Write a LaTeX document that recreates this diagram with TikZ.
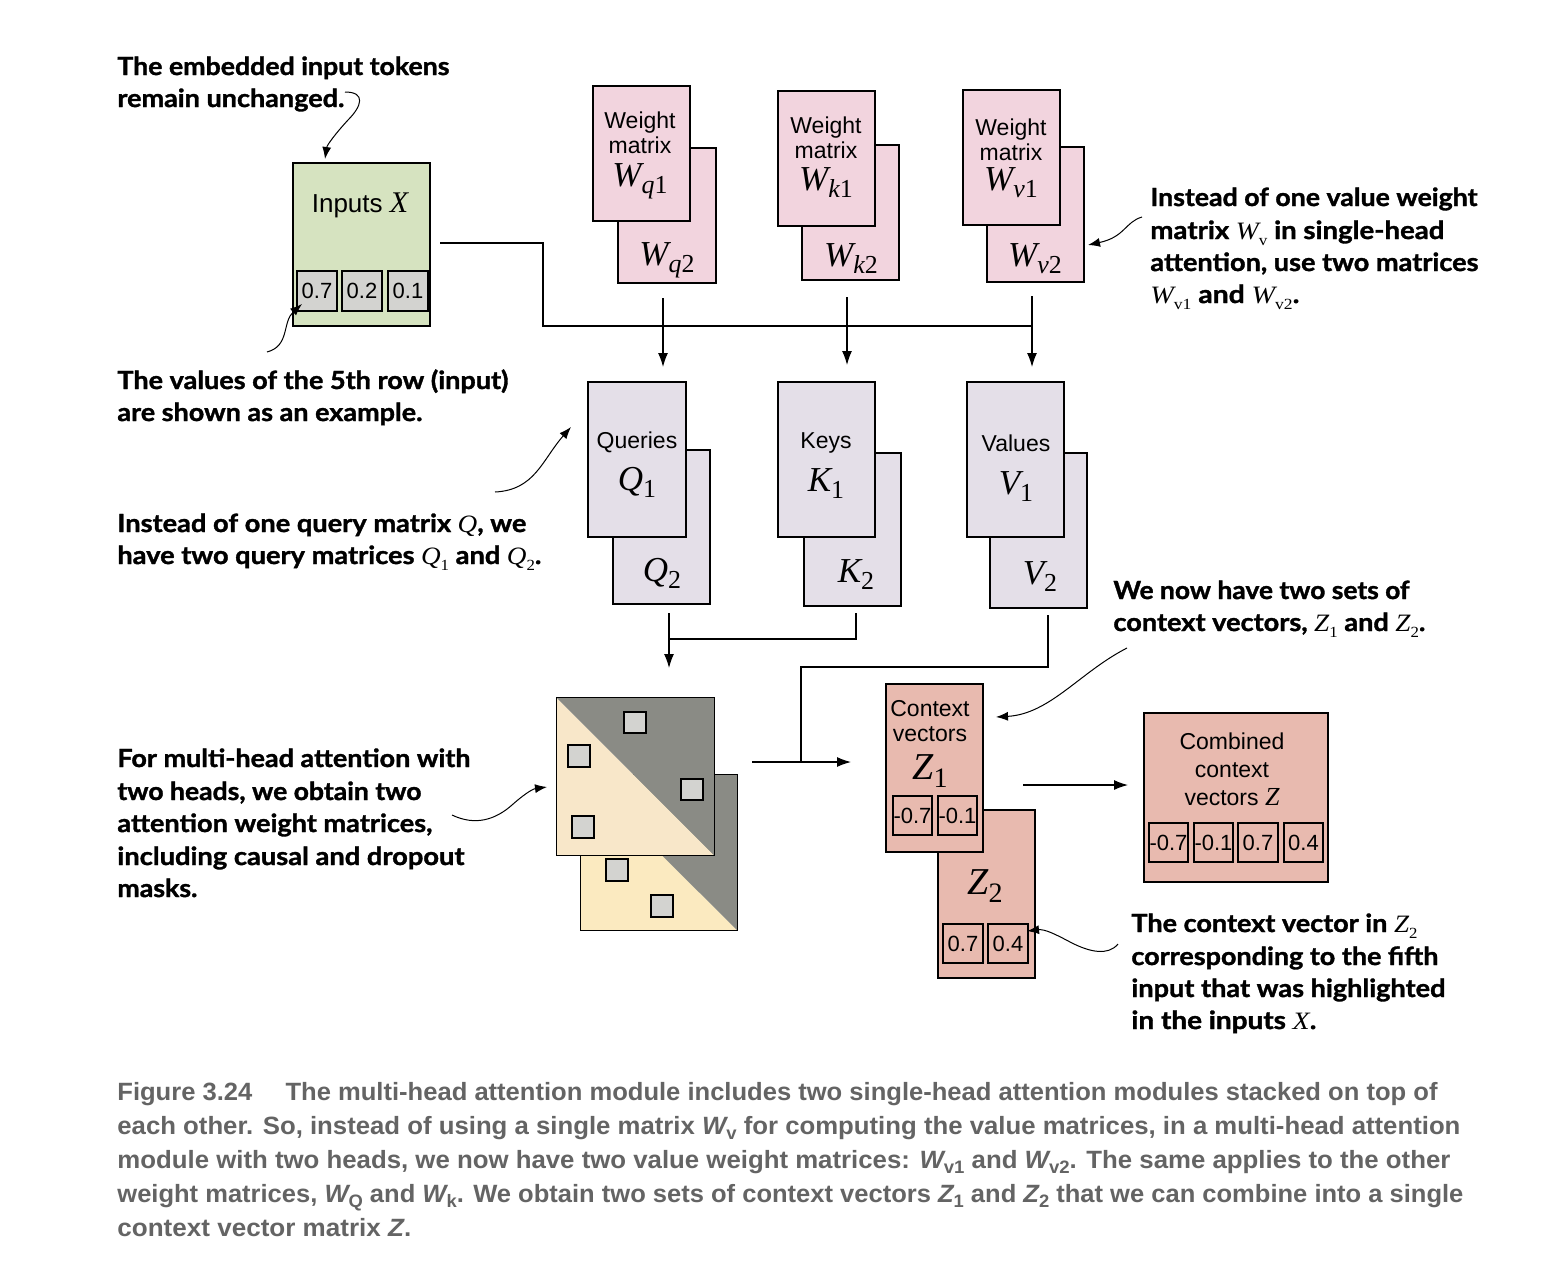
\documentclass[tikz,border=0pt]{standalone}
\usepackage{fontspec}
\setmainfont{Liberation Sans}
\newfontfamily\tms{Liberation Serif}
\newfontfamily\cfont{Lato}[BoldFeatures={FakeBold=1.3}]
\usetikzlibrary{arrows.meta,fit}
\definecolor{ingreen}{RGB}{214,227,192}
\definecolor{cellgray}{RGB}{211,211,208}
\definecolor{wpink}{RGB}{242,212,222}
\definecolor{qlav}{RGB}{228,223,232}
\definecolor{zsalmon}{RGB}{232,186,175}
\definecolor{attgray}{RGB}{138,139,133}
\definecolor{beigeA}{RGB}{248,231,201}
\definecolor{beigeB}{RGB}{251,234,192}
\definecolor{capgray}{RGB}{100,100,100}
\newcommand\ms[2]{{\tms\itshape #1}\raisebox{-0.4ex}{\scalebox{0.74}{\tms #2}}}
\newcommand\cmx[2]{{\tms\mdseries\itshape #1}\raisebox{-0.5ex}{\scalebox{0.62}{\tms\mdseries #2}}}
\newcommand\cix[1]{{\tms\mdseries\itshape #1}}
\newcommand\capm[2]{{\itshape #1}\raisebox{-0.45ex}{\scalebox{0.72}{#2}}}
\newcommand\callln[5]{\node[callout] (#1) at (#2,#3) {\resizebox{#4pt}{\height}{#5}};}
\newcommand\capline[5]{\node[captxt] (#1) at (#2,#3) {\resizebox{#4pt}{\height}{#5}};}
\begin{document}
\begin{tikzpicture}[x=0.5pt,y=-0.5pt,
  box/.style={draw=black,line width=0.75pt,inner sep=0pt},
  cell/.style={draw=black,line width=0.7pt,inner sep=0pt},
  ctxt/.style={inner sep=0pt,anchor=center,font=\fontsize{11}{11}\selectfont},
  lbl/.style={anchor=base,inner sep=0pt,font=\fontsize{11.5}{12}\selectfont},
  bigm/.style={anchor=base,inner sep=0pt,font=\fontsize{17.5}{17}\selectfont},
  conn/.style={line width=0.6pt},
  arr/.style={line width=0.6pt,-{Latex[length=7pt,width=5pt]}},
  carr/.style={line width=0.5pt,-{Latex[length=6pt,width=4.5pt]}},
  callout/.style={anchor=base west,inner sep=0pt,font=\cfont\bfseries\fontsize{12.5}{14}\selectfont},
  captxt/.style={anchor=base west,inner sep=0pt,text=capgray,font=\bfseries\fontsize{12.5}{14}\selectfont}]
\useasboundingbox[fill=white] (0,0) rectangle (1568,1286);

% ---------- Inputs
\node[box,fill=ingreen,fit={(293,163)(430,326)}] (inp) {};
\node[anchor=base,inner sep=0pt,font=\fontsize{13}{13}\selectfont] (inpt) at (360,212) {Inputs {\tms\itshape\fontsize{15}{15}\selectfont X}};
\node[cell,fill=cellgray,fit={(297,271)(337,311)}] (x1) {};
\node[cell,fill=cellgray,fit={(342,271)(382,311)}] (x2) {};
\node[cell,fill=cellgray,fit={(388,271)(428,311)}] (x3) {};
\node[ctxt] (x1t) at (x1.center) {0.7};
\node[ctxt] (x2t) at (x2.center) {0.2};
\node[ctxt] (x3t) at (x3.center) {0.1};

% ---------- Weight matrices
\node[box,fill=wpink,fit={(618,148)(716,283)}] (wq2) {};
\node[box,fill=wpink,fit={(593,86)(690,221)}] (wq1) {};
\node[box,fill=wpink,fit={(802,145)(899,280)}] (wk2) {};
\node[box,fill=wpink,fit={(778,91)(875,226)}] (wk1) {};
\node[box,fill=wpink,fit={(987,147)(1084,282)}] (wv2) {};
\node[box,fill=wpink,fit={(963,90)(1060,225)}] (wv1) {};

\node[lbl] (wq1a) at (640,128) {Weight};
\node[lbl] (wq1b) at (640,153) {matrix};
\node[bigm] (wq1m) at (640,186) {\ms{W}{{\itshape q}1}};
\node[bigm] (wq2m) at (667,265) {\ms{W}{{\itshape q}2}};
\node[lbl] (wk1a) at (826,133) {Weight};
\node[lbl] (wk1b) at (826,158) {matrix};
\node[bigm] (wk1m) at (826,190) {\ms{W}{{\itshape k}1}};
\node[bigm] (wk2m) at (851,266) {\ms{W}{{\itshape k}2}};
\node[lbl] (wv1a) at (1011,135) {Weight};
\node[lbl] (wv1b) at (1011,160) {matrix};
\node[bigm] (wv1m) at (1011,190) {\ms{W}{{\itshape v}1}};
\node[bigm] (wv2m) at (1035,266) {\ms{W}{{\itshape v}2}};

% ---------- Q K V
\node[box,fill=qlav,fit={(613,450)(710,604)}] (q2) {};
\node[box,fill=qlav,fit={(588,382)(686,537)}] (q1) {};
\node[box,fill=qlav,fit={(804,453)(901,606)}] (k2) {};
\node[box,fill=qlav,fit={(778,382)(875,537)}] (k1) {};
\node[box,fill=qlav,fit={(990,453)(1087,608)}] (v2) {};
\node[box,fill=qlav,fit={(967,382)(1064,537)}] (v1) {};

\node[lbl] (q1a) at (637,448) {Queries};
\node[bigm] (q1m) at (637,490) {\ms{Q}{1}};
\node[bigm] (q2m) at (662,581) {\ms{Q}{2}};
\node[lbl] (k1a) at (826,448) {Keys};
\node[bigm] (k1m) at (826,491) {\ms{K}{1}};
\node[bigm] (k2m) at (856,582) {\ms{K}{2}};
\node[lbl] (v1a) at (1016,451) {Values};
\node[bigm] (v1m) at (1016,494) {\ms{V}{1}};
\node[bigm] (v2m) at (1040,584) {\ms{V}{2}};

% ---------- connectors top
\coordinate (inR) at (440,243);
\coordinate (j1) at (543,243);
\coordinate (j2) at (543,326);
\coordinate (j3) at (1032,326);
\draw[conn] (inR) -- (j1) -- (j2) -- (j3);
\coordinate (aq0) at (663,298); \coordinate (aq1) at (663,367);
\coordinate (ak0) at (847,297); \coordinate (ak1) at (847,365);
\coordinate (av0) at (1032,296); \coordinate (av1) at (1032,367);
\draw[arr] (aq0) -- (aq1);
\draw[arr] (ak0) -- (ak1);
\draw[arr] (av0) -- (av1);

% ---------- attention weight matrices
\node[inner sep=0pt,fit={(581,775)(737,930)}] (attB) {};
\fill[beigeB] (attB.north west) -- (attB.south east) -- (attB.south west) -- cycle;
\fill[attgray] (attB.north west) -- (attB.north east) -- (attB.south east) -- cycle;
\draw[line width=0.6pt] (attB.north west) rectangle (attB.south east);
\node[inner sep=0pt,fit={(557,698)(714,855)}] (attA) {};
\fill[beigeA] (attA.north west) -- (attA.south east) -- (attA.south west) -- cycle;
\fill[attgray] (attA.north west) -- (attA.north east) -- (attA.south east) -- cycle;
\draw[line width=0.6pt] (attA.north west) rectangle (attA.south east);
\node[cell,fill=cellgray,fit={(606,859)(628,881)}] (sb1) {};
\node[cell,fill=cellgray,fit={(651,895)(673,917)}] (sb2) {};
\node[cell,fill=cellgray,fit={(624,712)(646,733)}] (sa1) {};
\node[cell,fill=cellgray,fit={(568,745)(590,767)}] (sa2) {};
\node[cell,fill=cellgray,fit={(681,779)(703,800)}] (sa3) {};
\node[cell,fill=cellgray,fit={(572,816)(594,838)}] (sa4) {};

% ---------- connectors middle
\coordinate (qb0) at (669,613); \coordinate (qb1) at (669,668);
\coordinate (kb0) at (856,613); \coordinate (kb1) at (856,639); \coordinate (kb2) at (669,639);
\draw[arr] (qb0) -- (qb1);
\draw[conn] (kb0) -- (kb1) -- (kb2);
\coordinate (vb0) at (1048,615); \coordinate (vb1) at (1048,667);
\coordinate (vb2) at (801,667); \coordinate (vb3) at (801,762);
\draw[conn] (vb0) -- (vb1) -- (vb2) -- (vb3);
\coordinate (at0) at (752,762); \coordinate (at1) at (851,762);
\draw[arr] (at0) -- (at1);

% ---------- context vectors
\node[box,fill=zsalmon,fit={(938,810)(1035,978)}] (z2) {};
\node[box,fill=zsalmon,fit={(886,684)(983,852)}] (z1) {};
\node[lbl] (z1a) at (930,716) {Context};
\node[lbl] (z1b) at (930,741) {vectors};
\node[bigm,font=\fontsize{19}{18}\selectfont] (z1m) at (930,779) {\ms{Z}{1}};
\node[cell,fit={(893,796)(932,835)}] (c1) {};
\node[cell,fit={(938,796)(977,835)}] (c2) {};
\node[ctxt] (c1t) at (c1.center) {-0.7};
\node[ctxt] (c2t) at (c2.center) {-0.1};
\node[bigm,font=\fontsize{19}{18}\selectfont] (z2m) at (985,894) {\ms{Z}{2}};
\node[cell,fit={(943,924)(983,963)}] (c3) {};
\node[cell,fit={(988,924)(1028,963)}] (c4) {};
\node[ctxt] (c3t) at (c3.center) {0.7};
\node[ctxt] (c4t) at (c4.center) {0.4};

\coordinate (zc0) at (1023,785); \coordinate (zc1) at (1128,785);
\draw[arr] (zc0) -- (zc1);

\node[box,fill=zsalmon,fit={(1144,713)(1328,882)}] (zc) {};
\node[lbl] (zca) at (1232,749) {Combined};
\node[lbl] (zcb) at (1232,777) {context};
\node[lbl] (zcc) at (1232,805) {vectors {\tms\itshape\fontsize{13}{13}\selectfont Z}};
\node[cell,fit={(1149,823)(1188,862)}] (d1) {};
\node[cell,fit={(1194,823)(1233,862)}] (d2) {};
\node[cell,fit={(1238,823)(1278,862)}] (d3) {};
\node[cell,fit={(1284,823)(1323,862)}] (d4) {};
\node[ctxt] (d1t) at (d1.center) {-0.7};
\node[ctxt] (d2t) at (d2.center) {-0.1};
\node[ctxt] (d3t) at (d3.center) {0.7};
\node[ctxt] (d4t) at (d4.center) {0.4};

% ---------- callouts
\callln{ca1}{117}{75}{166}{The embedded input tokens}
\callln{ca2}{117}{107}{113.5}{remain unchanged.}
\coordinate (p1s) at (345,92); \coordinate (p1e) at (325,159);
\draw[carr] (p1s) .. controls (366,92) and (362,106) .. (348,120) .. controls (336,133) and (327,145) .. (p1e);

\callln{cb1}{117}{389}{195.5}{The values of the 5th row (input)}
\callln{cb2}{117}{421}{152.5}{are shown as an example.}
\coordinate (p2s) at (267,352); \coordinate (p2e) at (302,304);
\draw[carr] (p2s) .. controls (290,346) and (282,322) .. (p2e);

\callln{cc1}{117}{532}{204.5}{Instead of one query matrix \cix{Q}, we}
\callln{cc2}{117}{564}{212}{have two query matrices \cmx{Q}{1} and \cmx{Q}{2}.}
\coordinate (p3s) at (495,492); \coordinate (p3e) at (571,427);
\draw[carr] (p3s) .. controls (535,490) and (542,460) .. (p3e);

\callln{cd1}{117}{767}{176.5}{For multi-head attention with}
\callln{cd2}{117}{800}{152}{two heads, we obtain two}
\callln{cd3}{117}{832}{157.5}{attention weight matrices,}
\callln{cd4}{117}{865}{173.5}{including causal and dropout}
\callln{cd5}{117}{897}{40}{masks.}
\coordinate (p4s) at (452,815); \coordinate (p4e) at (547,787);
\draw[carr] (p4s) .. controls (475,826) and (495,820) .. (512,805) .. controls (522,796) and (532,789) .. (p4e);

\callln{ce1}{1150}{206}{163.5}{Instead of one value weight}
\callln{ce2}{1150}{239}{147}{matrix \cmx{W}{v} in single-head}
\callln{ce3}{1150}{271}{164}{attention, use two matrices}
\callln{ce4}{1150}{303}{74.5}{\cmx{W}{v1} and \cmx{W}{v2}.}
\coordinate (p5s) at (1142,217); \coordinate (p5e) at (1088,245);
\draw[carr] (p5s) .. controls (1125,222) and (1125,237) .. (p5e);

\callln{cf1}{1113}{599}{148}{We now have two sets of}
\callln{cf2}{1113}{631}{156}{context vectors, \cmx{Z}{1} and \cmx{Z}{2}.}
\coordinate (p6s) at (1127,648); \coordinate (p6e) at (996,717);
\draw[carr] (p6s) .. controls (1080,672) and (1050,714) .. (p6e);

\callln{cg1}{1131}{932}{143}{The context vector in \cmx{Z}{2}}
\callln{cg2}{1131}{965}{153.5}{corresponding to the fifth}
\callln{cg3}{1131}{997}{157}{input that was highlighted}
\callln{cg4}{1131}{1029}{92.5}{in the inputs \cix{X}.}
\coordinate (p7s) at (1118,944); \coordinate (p7e) at (1027,931);
\draw[carr] (p7s) .. controls (1108,956) and (1090,952) .. (1072,943) .. controls (1055,934) and (1045,929) .. (p7e);

% ---------- caption
\capline{k1}{117}{1100}{660}{Figure 3.24\hspace{1.3em}The multi-head attention module includes two single-head attention modules stacked on top of}
\capline{k2}{117}{1134}{671.5}{each other. So, instead of using a single matrix \capm{W}{v} for computing the value matrices, in a multi-head attention}
\capline{k3}{117}{1168}{666.5}{module with two heads, we now have two value weight matrices: \capm{W}{v1} and \capm{W}{v2}. The same applies to the other}
\capline{k4}{117}{1202}{673}{weight matrices, \capm{W}{Q} and \capm{W}{k}. We obtain two sets of context vectors \capm{Z}{1} and \capm{Z}{2} that we can combine into a single}
\capline{k5}{117}{1236}{147}{context vector matrix \textit{Z}.}
\end{tikzpicture}
\end{document}
